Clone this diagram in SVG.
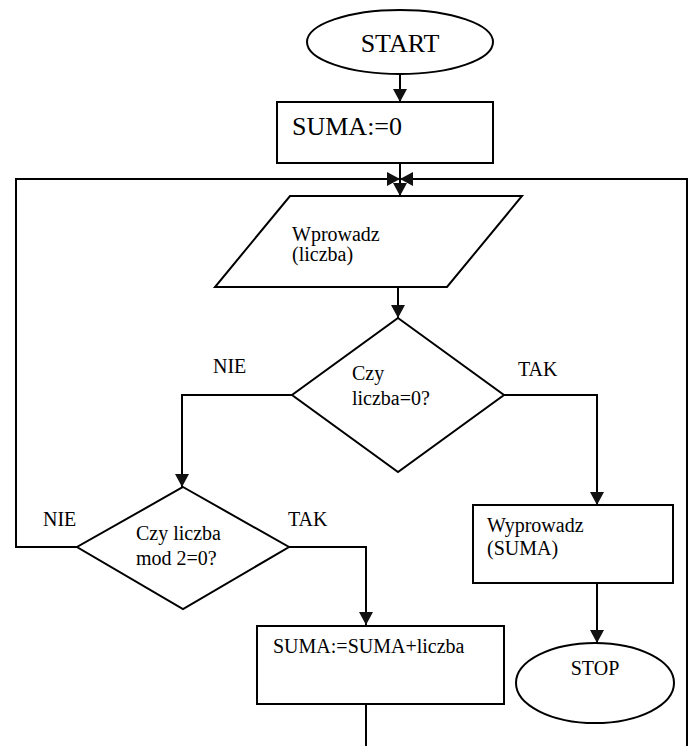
<svg xmlns="http://www.w3.org/2000/svg" width="689" height="746" viewBox="0 0 689 746" font-family="'Liberation Serif', 'DejaVu Serif', serif">
<style>
.s{fill:#fff;stroke:#000;stroke-width:2}
.c{fill:none;stroke:#000;stroke-width:2}
text{font-family:'Liberation Serif','DejaVu Serif',serif;fill:#000;font-size:20px}
.big{font-size:26px}
</style>
<defs>
<marker id="a" markerUnits="userSpaceOnUse" markerWidth="14" markerHeight="14" refX="13" refY="7" orient="auto">
<path d="M0,0 L13,7 L0,14 z" fill="#111"/>
</marker>
</defs>
<rect width="689" height="746" fill="#fff"/>
<g id="connectors">
<path class="c" d="M400,75 V102" marker-end="url(#a)"/>
<path class="c" d="M400,163 V196" marker-end="url(#a)"/>
<path class="c" d="M77,547 H16 V179 H400" marker-end="url(#a)"/>
<path class="c" d="M687,746 V179 H400" marker-end="url(#a)"/>
<path class="c" d="M398,287 V318" marker-end="url(#a)"/>
<path class="c" d="M292,395 H182 V487" marker-end="url(#a)"/>
<path class="c" d="M504,395 H597 V505" marker-end="url(#a)"/>
<path class="c" d="M289,547 H366 V625" marker-end="url(#a)"/>
<path class="c" d="M597,583 V643" marker-end="url(#a)"/>
<path class="c" d="M366,704 V746"/>
<text x="213" y="373">NIE</text>
<text x="518" y="376">TAK</text>
<text x="43" y="526">NIE</text>
<text x="288" y="526">TAK</text>
</g>
<g id="start">
<ellipse class="s" cx="400" cy="42" rx="93" ry="32"/>
<text class="big" x="400" y="52" text-anchor="middle">START</text>
</g>
<g id="init">
<rect class="s" x="277" y="102" width="216" height="61"/>
<text class="big" x="292" y="135">SUMA:=0</text>
</g>
<g id="input">
<polygon class="s" points="290,196 522,196 447,287 215,287"/>
<text x="292" y="241">Wprowadz</text>
<text x="292" y="261">(liczba)</text>
</g>
<g id="check-zero">
<polygon class="s" points="398,318 504,395 398,472 292,395"/>
<text x="352" y="380">Czy</text>
<text x="352" y="405">liczba=0?</text>
</g>
<g id="check-even">
<polygon class="s" points="183,487 289,547 183,609 77,547"/>
<text x="136" y="540">Czy liczba</text>
<text x="136" y="565">mod 2=0?</text>
</g>
<g id="add">
<rect class="s" x="257" y="626" width="247" height="78"/>
<text x="273" y="653">SUMA:=SUMA+liczba</text>
</g>
<g id="output">
<rect class="s" x="473" y="505" width="200" height="78"/>
<text x="487" y="532" font-size="21">Wyprowadz</text>
<text x="487" y="555" font-size="21">(SUMA)</text>
</g>
<g id="stop">
<ellipse class="s" cx="595" cy="683" rx="79" ry="40"/>
<text x="595" y="675" text-anchor="middle" font-size="24">STOP</text>
</g>
</svg>
